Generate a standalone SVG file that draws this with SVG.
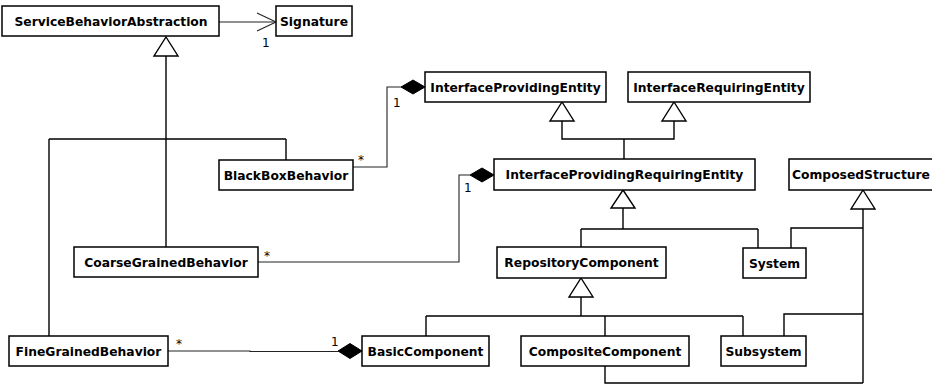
<svg xmlns="http://www.w3.org/2000/svg" width="932" height="387" viewBox="0 0 932 387">
  <style>
    .box { fill: #fff; stroke: #000; stroke-width: 1.5; }
    .name { font-family: "DejaVu Sans", Verdana, sans-serif; font-weight: bold; font-size: 12.3px; fill: #000; text-anchor: middle; }
    .gen { fill: none; stroke: #000; stroke-width: 1.4; }
    .assoc { fill: none; stroke: #222; stroke-width: 1.1; }
    .tri { fill: #fff; stroke: #000; stroke-width: 1.4; stroke-linejoin: miter; }
    .dia { fill: #000; stroke: #000; stroke-width: 1; }
    .mult { font-family: "DejaVu Sans", Verdana, sans-serif; font-size: 12px; fill: #000; }
  </style>

  <!-- connectors -->
  <g id="connectors">
    <!-- navigable association to Signature -->
    <path class="assoc" d="M219,22 H276"/>
    <path class="assoc" d="M257,13 L276,22 L257,31"/>
    <text class="mult" x="262" y="47">1</text>

    <!-- behaviors specialize ServiceBehaviorAbstraction -->
    <path class="gen" d="M166,56 V139 M49,139 H286 M49,139 V336 M166,139 V247 M286,139 V160"/>
    <polygon class="tri" points="166,37 178,56 154,56"/>

    <!-- BlackBoxBehavior composed into InterfaceProvidingEntity -->
    <path class="assoc" d="M353,167 H387 V87 H401"/>
    <polygon class="dia" points="401,87 413,80 425,87 413,94"/>
    <text class="mult" x="358" y="164">*</text>
    <text class="mult" x="393" y="107">1</text>

    <!-- CoarseGrainedBehavior composed into InterfaceProvidingRequiringEntity -->
    <path class="assoc" d="M258,262 H459 V175 H470"/>
    <polygon class="dia" points="470,175 482,168 494,175 482,182"/>
    <text class="mult" x="264" y="260">*</text>
    <text class="mult" x="464" y="192">1</text>

    <!-- FineGrainedBehavior composed into BasicComponent -->
    <path class="assoc" d="M168,351 H250 V351.5 H338"/>
    <polygon class="dia" points="338,351 350,343.5 362,351 350,358.5"/>
    <text class="mult" x="176" y="348">*</text>
    <text class="mult" x="331" y="346">1</text>

    <!-- InterfaceProvidingRequiringEntity specializes both entities -->
    <path class="gen" d="M562,121 V139 H674 V121 M624,139 V159"/>
    <polygon class="tri" points="562,102 574,121 550,121"/>
    <polygon class="tri" points="674,102 686,121 662,121"/>

    <!-- RepositoryComponent and System specialize InterfaceProvidingRequiringEntity -->
    <path class="gen" d="M623,208 V229 M581,229 H758 M581,229 V247 M758,229 V248"/>
    <polygon class="tri" points="623,190 635,208 611,208"/>

    <!-- components specialize RepositoryComponent -->
    <path class="gen" d="M581,297 V316 M426,316 H743 M426,316 V336 M605,316 V336 M743,316 V336"/>
    <polygon class="tri" points="581,278 593,297 569,297"/>

    <!-- composed structures -->
    <path class="gen" d="M863,209 V383 M791,248 V228 H863 M784,336 V314 H863 M605,366 V383 H863"/>
    <polygon class="tri" points="863,190 875,209 851,209"/>
  </g>

  <g id="ServiceBehaviorAbstraction">
    <rect class="box" x="2" y="6" width="217" height="30"/>
    <text class="name" x="111" y="25.5">ServiceBehaviorAbstraction</text>
  </g>
  <g id="Signature">
    <rect class="box" x="276" y="6" width="76" height="30"/>
    <text class="name" x="314" y="25.5">Signature</text>
  </g>
  <g id="InterfaceProvidingEntity">
    <rect class="box" x="425" y="72" width="181" height="30"/>
    <text class="name" x="515.5" y="91.5">InterfaceProvidingEntity</text>
  </g>
  <g id="InterfaceRequiringEntity">
    <rect class="box" x="628" y="72" width="182" height="30"/>
    <text class="name" x="719" y="91.5">InterfaceRequiringEntity</text>
  </g>
  <g id="BlackBoxBehavior">
    <rect class="box" x="219" y="160" width="134" height="30"/>
    <text class="name" x="286" y="179.5">BlackBoxBehavior</text>
  </g>
  <g id="InterfaceProvidingRequiringEntity">
    <rect class="box" x="494" y="159" width="261" height="31"/>
    <text class="name" x="624.5" y="179">InterfaceProvidingRequiringEntity</text>
  </g>
  <g id="ComposedStructure">
    <rect class="box" x="789" y="159" width="150" height="31"/>
    <text class="name" x="861" y="179">ComposedStructure</text>
  </g>
  <g id="CoarseGrainedBehavior">
    <rect class="box" x="74" y="247" width="184" height="30"/>
    <text class="name" x="166" y="266.5">CoarseGrainedBehavior</text>
  </g>
  <g id="RepositoryComponent">
    <rect class="box" x="497" y="247" width="169" height="31"/>
    <text class="name" x="581.5" y="267">RepositoryComponent</text>
  </g>
  <g id="System">
    <rect class="box" x="743" y="248" width="63" height="30"/>
    <text class="name" x="774.5" y="267.5">System</text>
  </g>
  <g id="FineGrainedBehavior">
    <rect class="box" x="9" y="336" width="159" height="30"/>
    <text class="name" x="88.5" y="355.5">FineGrainedBehavior</text>
  </g>
  <g id="BasicComponent">
    <rect class="box" x="362" y="336" width="127" height="30"/>
    <text class="name" x="425.5" y="355.5">BasicComponent</text>
  </g>
  <g id="CompositeComponent">
    <rect class="box" x="521" y="336" width="168" height="30"/>
    <text class="name" x="605" y="355.5">CompositeComponent</text>
  </g>
  <g id="Subsystem">
    <rect class="box" x="721" y="336" width="85" height="30"/>
    <text class="name" x="763.5" y="355.5">Subsystem</text>
  </g>
</svg>
